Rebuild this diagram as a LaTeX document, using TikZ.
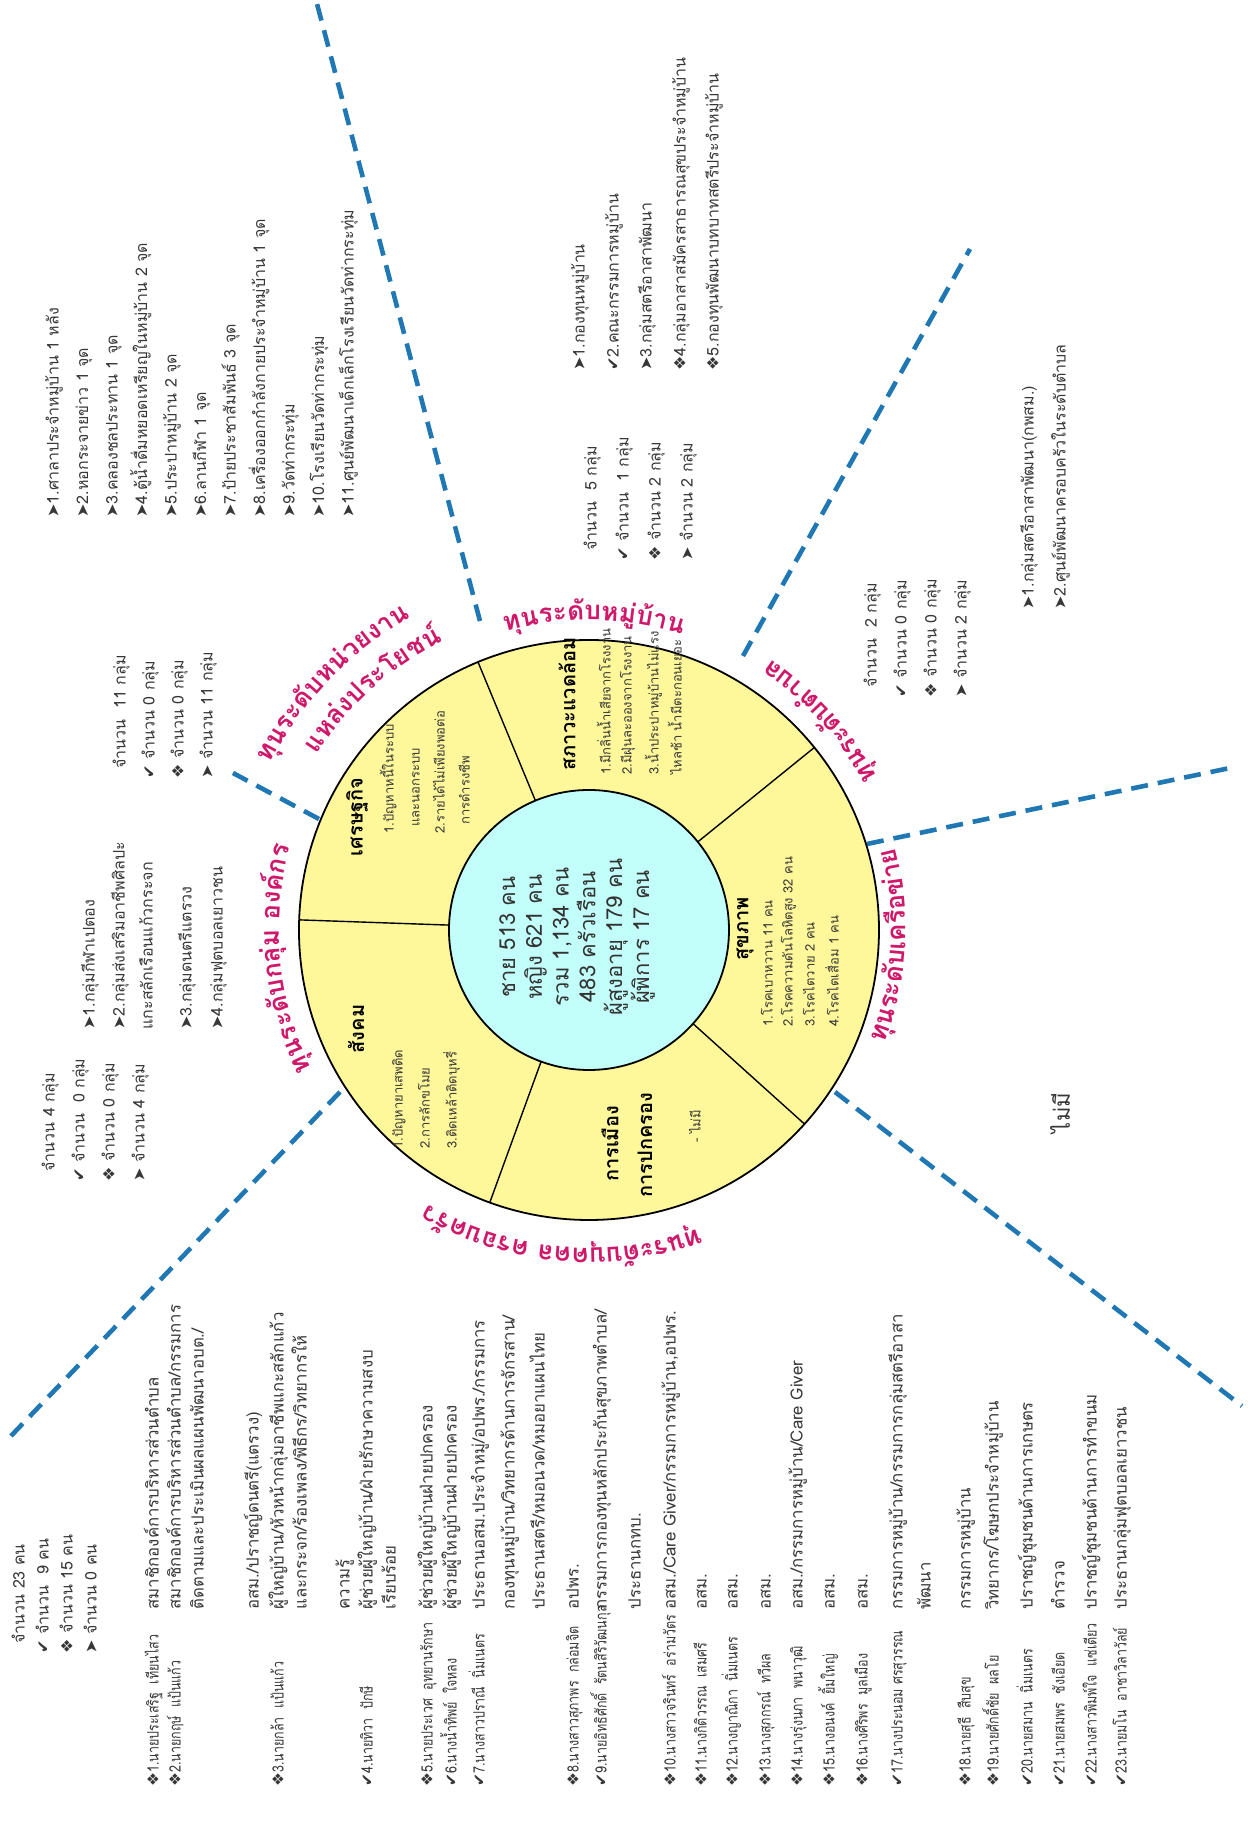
\documentclass[tikz,border=0pt]{standalone}
\usepackage{fontspec}
\setmainfont[Script=Thai]{Loma}
\newfontfamily\namefam[Script=Thai, FakeStretch=0.8]{Loma}
\newfontfamily\symfont{DejaVu Sans}
\usetikzlibrary{calc}

\definecolor{capblue}{RGB}{31,119,180}
\definecolor{capmagenta}{RGB}{208,24,107}
\definecolor{sectoryellow}{RGB}{255,248,155}
\definecolor{coreaqua}{RGB}{195,255,250}
\definecolor{ink}{RGB}{55,55,55}

\def\arr{{\symfont ➤}}
\def\chk{{\symfont ✔}}
\def\dia{{\symfont ❖}}
\newcommand\listfont{\fontsize{8}{10}\selectfont}
\newcommand\namefont{\namefam\fontsize{7.8}{10}\selectfont}
\newcommand\rolefont{\fontsize{8.4}{10}\selectfont}
\newcommand\itemfont{\fontsize{6.5}{8}\selectfont}
\newcommand\titlefont{\bfseries\fontsize{10}{12}\selectfont}
\newcommand\lblfont{\bfseries\fontsize{13}{15}\selectfont}

\tikzset{
  listline/.style={anchor=base west, inner sep=0pt, font=\listfont, text=ink, yshift=-2.3pt},
  nameline/.style={listline, font=\namefont},
  roleline/.style={listline, font=\rolefont},
  smallline/.style={anchor=base west, inner sep=0pt, font=\itemfont, text=ink, yshift=-1.8pt},
  sectitle/.style={inner sep=0pt, font=\titlefont},
  lbl/.style={anchor=base, inner sep=0pt, font=\lblfont, text=capmagenta},
  core/.style={align=center, inner sep=0pt, font=\fontsize{11}{13.4}\selectfont, text=black!80},
  capline/.style={capblue, line width=2.3pt, dash pattern=on 8.5pt off 5pt},
  rim/.style={draw=black, line width=0.9pt},
  spoke/.style={black, line width=0.7pt}
}

% label set along an arc: (centre angle:baseline radius:+1 ccw / -1 cw){whole text}{clusters}
\newlength\lblwd
\newlength\lblcwd
\newlength\lbltmp
\def\lblspace{~}
\def\lblmeasure#1#2{\pgfinterruptpicture\settowidth\lbltmp{\lblfont #2}\global#1=\lbltmp\endpgfinterruptpicture}
\def\arclabel(#1:#2:#3)#4#5{%
  \lblmeasure\lblwd{#4}%
  \xdef\lblacc{0}%
  \foreach \lblc in {#5}{%
    \lblmeasure\lblcwd{\lblc}%
    \pgfmathsetmacro\lbla{#1+#3*(\lblacc+0.5*\lblcwd-0.5*\lblwd)/(#2*0.5)*57.29578}%
    \ifx\lblc\lblspace\else
      \node[lbl, rotate=\lbla+#3*90] at (\lbla:#2) {\lblc};
    \fi
    \pgfmathsetmacro\lblnext{\lblacc+\lblcwd}%
    \xdef\lblacc{\lblnext}%
  }}

% four count lines: (x,y,step){name}{total}{check}{diamond}{arrow}
\def\countblock(#1,#2,#3)#4#5#6#7#8{%
  \node[listline] (#4a) at (#1+10,#2) {#5};
  \node[listline] (#4b) at (#1,#2-#3) {\chk~#6};
  \node[listline] (#4c) at (#1,#2-2*#3) {\dia~#7};
  \node[listline] (#4d) at (#1,#2-3*#3) {\arr~#8};
}

\begin{document}
\begin{tikzpicture}[x=0.5pt, y=0.5pt, rotate=90, transform shape]
  \fill[white] (0,0) rectangle (1837,1255);
  \useasboundingbox (0,0) rectangle (1837,1255);

  %%%%% dashed separators %%%%%
  \draw[capline] (1216,775) -- (1837,939);
  \draw[capline] (1181,512) -- (1588,285);
  \draw[capline] (993,388) -- (1069,25);
  \draw[capline] (745,420) -- (431,13);
  \draw[capline] (745,915) -- (400,1245);
  \draw[capline] (1018,936) -- (1064,1022);

  %%%%% wheel %%%%%
  \begin{scope}[shift={(907,666)}]
    \fill[sectoryellow] (0,0) circle (290);
    \foreach \a in {88,22.5,-51,-132,160}
      \draw[spoke] (\a:140) -- (\a:290);
    \draw[rim] (0,0) circle (290);
    \filldraw[rim, fill=coreaqua] (0,0) circle (140);
    \node[core] (core) at (-7,12) {ชาย 513 คน\\หญิง 621 คน\\รวม 1,134 คน\\483 ครัวเรือน\\ผู้สูงอายุ 179 คน\\ผู้พิการ 17 คน};

    \arclabel(-1:310:-1){ทุนระดับหมู่บ้าน}{ทุ,น,ร,ะ,ดั,บ,ห,มู่,บ้,า,น}
    \arclabel(46:360:-1){ทุนระดับหน่วยงาน}{ทุ,น,ร,ะ,ดั,บ,ห,น่,ว,ย,ง,า,น}
    \arclabel(42:324:-1){แหล่งประโยชน์}{แ,ห,ล่,ง,ป,ร,ะ,โ,ย,ช,น์}
    \arclabel(95.5:310:-1){ทุนระดับกลุ่ม องค์กร}{ทุ,น,ร,ะ,ดั,บ,ก,ลุ่,ม,~,อ,ง,ค์,ก,ร}
    \arclabel(175:318:-1){ทุนระดับบุคคล ครอบครัว}{ทุ,น,ร,ะ,ดั,บ,บุ,ค,ค,ล,~,ค,ร,อ,บ,ค,รั,ว}
    \arclabel(-93:317:1){ทุนระดับเครือข่าย}{ทุ,น,ร,ะ,ดั,บ,เ,ค,รื,อ,ข่,า,ย}
    \arclabel(-48:326:1){ทุนระดับตำบล}{ทุ,น,ร,ะ,ดั,บ,ตำ,บ,ล}
  \end{scope}

  %%%%% sectors %%%%%
  \node[sectitle] (econ) at (1020,898) {เศรษฐกิจ};
  \node[smallline] (econ1) at (1003,865) {1.ปัญหาหนี้ในระบบ};
  \node[smallline] (econ2) at (1010,839) {และนอกระบบ};
  \node[smallline] (econ3) at (1003,814) {2.รายได้ไม่เพียงพอต่อ};
  \node[smallline] (econ4) at (1012,789) {การดำรงชีพ};

  \node[sectitle, anchor=west] (env) at (1066,688) {สภาวะแวดล้อม};
  \foreach \y/\txt [count=\i] in {648/{1.มีกลิ่นน้ำเสียจากโรงงาน}, 627/{2.มีฝุ่นละอองจากโรงงาน},
      600/{3.น้ำประปาหมู่บ้านไม่แรง}, 577/{ไหลช้า น้ำมีตะกอนเยอะ}}
    \node[smallline] (env\i) at (1062,\y) {\txt};

  \node[sectitle] (health) at (908,510) {สุขภาพ};
  \foreach \y/\txt [count=\i] in {486/{1.โรคเบาหวาน 11 คน}, 466/{2.โรคความดันโลหิตสูง 32 คน},
      444/{3.โรคไตวาย 2 คน}, 420/{4.โรคไตเสื่อม 1 คน}}
    \node[smallline] (health\i) at (810,\y) {\txt};

  \node[sectitle] (pol1) at (693,645) {การเมือง};
  \node[sectitle] (pol2) at (692,610) {การปกครอง};
  \node[smallline] (pol3) at (694,558) {- ไม่มี};

  \node[sectitle] (soc) at (808,899) {สังคม};
  \foreach \y/\txt [count=\i] in {856/{1.ปัญหายาเสพติด}, 829/{2.การลักขโมย}, 802/{3.ติดเหล้าติดบุหรี่}}
    \node[smallline] (soc\i) at (688,\y) {\txt};

  %%%%% unit level %%%%%
  \foreach \txt [count=\i] in {ศาลาประจำหมู่บ้าน 1 หลัง, หอกระจายข่าว 1 จุด, คลองชลประทาน 1 จุด,
      ตู้น้ำดื่มหยอดเหรียญในหมู่บ้าน 2 จุด, ประปาหมู่บ้าน 2 จุด, ลานกีฬา 1 จุด,
      ป้ายประชาสัมพันธ์ 3 จุด, เครื่องออกกำลังกายประจำหมู่บ้าน 1 จุด, วัดท่ากระทุ่ม,
      โรงเรียนวัดท่ากระทุ่ม, ศูนย์พัฒนาเด็กเล็กโรงเรียนวัดท่ากระทุ่ม}
    \node[listline] (unit\i) at (1319,1230.5-29.5*\i) {\arr\i.\txt};
  \countblock(1058,1134,29){unitcount}{จำนวน~ 11 กลุ่ม}{จำนวน 0 กลุ่ม}{จำนวน 0 กลุ่ม}{จำนวน 11 กลุ่ม}

  %%%%% village level %%%%%
  \node[listline] (vil1) at (1466,675) {\arr1.กองทุนหมู่บ้าน};
  \node[listline] (vil2) at (1466,641) {\chk2.คณะกรรมการหมู่บ้าน};
  \node[listline] (vil3) at (1466,608) {\arr3.กลุ่มสตรีอาสาพัฒนา};
  \node[listline] (vil4) at (1466,574) {\dia4.กลุ่มอาสาสมัครสาธารณสุขประจำหมู่บ้าน};
  \node[listline] (vil5) at (1466,541) {\dia5.กองทุนพัฒนาบทบาทสตรีประจำหมู่บ้าน};
  \countblock(1276,663,32){vilcount}{จำนวน~ 5 กลุ่ม}{จำนวน~ 1 กลุ่ม}{จำนวน 2 กลุ่ม}{จำนวน 2 กลุ่ม}

  %%%%% sub-district level %%%%%
  \node[listline] (tam1) at (1227,226) {\arr1.กลุ่มสตรีอาสาพัฒนา(กพสม.)};
  \node[listline] (tam2) at (1227,194) {\arr2.ศูนย์พัฒนาครอบครัวในระดับตำบล};
  \countblock(1139,383,30){tamcount}{จำนวน~ 2 กลุ่ม}{จำนวน 0 กลุ่ม}{จำนวน 0 กลุ่ม}{จำนวน 2 กลุ่ม}

  %%%%% network level %%%%%
  \node[font=\fontsize{11}{13}\selectfont, text=ink] (none) at (724,195) {ไม่มี};

  %%%%% group level %%%%%
  \node[listline] (grp1) at (807,1165) {\arr1.กลุ่มกีฬาเปตอง};
  \node[listline] (grp2) at (807,1135) {\arr2.กลุ่มส่งเสริมอาชีพศิลปะ};
  \node[listline] (grp2b) at (807,1107) {แกะสลักเรือนแก้วกระจก};
  \node[listline] (grp3) at (807,1068) {\arr3.กลุ่มดนตรีแตรวง};
  \node[listline] (grp4) at (807,1037) {\arr4.กลุ่มฟุตบอลเยาวชน};
  \countblock(655,1205,30){grpcount}{จำนวน 4 กลุ่ม}{จำนวน~ 0 กลุ่ม}{จำนวน 0 กลุ่ม}{จำนวน 4 กลุ่ม}

  %%%%% persons %%%%%
  \countblock(183,1235,24){percount}{จำนวน 23 คน}{จำนวน~ 9 คน}{จำนวน 15 คน}{จำนวน 0 คน}
  \foreach \y/\txt [count=\i] in {
      1101/{\dia1.นายประเสริฐ~ เทียนไสว}, 1079/{\dia2.นายกฤษ์~ แป้นแก้ว},
      976/{\dia3.นายกล้า~ แป้นแก้ว}, 887/{\chk4.นายทิวา~ ปักษี},
      827/{\dia5.นายประเวศ~ อุทยานรักษา}, 803/{\chk6.นางน้ำทิพย์~ ใจหลง},
      775/{\chk7.นางสาวปราณี~ นิ่มเนตร}, 681/{\dia8.นางสาวสุภาพร~ กล่อมจิต},
      653/{\chk9.นายอิทธิศักดิ์~ รัตนสิริวัฒนกุล}, 584/{\dia10.นางสาวจรินทร์~ อร่ามวัตร},
      553/{\dia11.นางกิติวรรณ~ เสมศรี}, 522/{\dia12.นางญาณิกา~ นิ่มเนตร},
      489/{\dia13.นางสุภกรณ์~ ทวีผล}, 457/{\dia14.นางรุ่งนภา~ พนาวุฒิ},
      425/{\dia15.นางอนงค์~ ยิ้มใหญ่}, 392/{\dia16.นางศิริพร~ มูลเมือง},
      357/{\chk17.นางประนอม ศรสุวรรณ}, 289/{\dia18.นายสุธี~ สืบสุข},
      261/{\dia19.นายศักดิ์ชัย~ ผลโย}, 227/{\chk20.นายสมาน~ นิ่มเนตร},
      195/{\chk21.นายสมพร~ ชังเอียด}, 163/{\chk22.นางสาวพิมพ์ใจ~ แซ่เตียว},
      133/{\chk23.นายมโน~ อาชาวิลาวัลย์}}
    \node[nameline] (person\i) at (50,\y) {\txt};
  \foreach \y/\txt [count=\i] in {
      1101/{สมาชิกองค์การบริหารส่วนตำบล}, 1079/{สมาชิกองค์การบริหารส่วนตำบล/กรรมการ},
      1056/{ติดตามและประเมินผลแผนพัฒนาอบต./}, 1001/{อสม./ปราชญ์ดนตรี(แตรวง)},
      976/{ผู้ใหญ่บ้าน/หัวหน้ากลุ่มอาชีพแกะสลักแก้ว}, 953/{และกระจก/ร้องเพลง/พิธีกร/วิทยากรให้},
      910/{ความรู้}, 887/{ผู้ช่วยผู้ใหญ่บ้าน/ฝ่ายรักษาความสงบ}, 864/{เรียบร้อย},
      827/{ผู้ช่วยผู้ใหญ่บ้านฝ่ายปกครอง}, 803/{ผู้ช่วยผู้ใหญ่บ้านฝ่ายปกครอง},
      775/{ประธานอสม.ประจำหมู่/อปพร./กรรมการ}, 745/{กองทุนหมู่บ้าน/วิทยากรด้านการจักรสาน/},
      715/{ประธานสตรี/หมอนวด/หมอยาแผนไทย}, 681/{อปพร.},
      653/{กรรมการกองทุนหลักประกันสุขภาพตำบล/}, 619/{ประธานกทบ.},
      584/{อสม./Care Giver/กรรมการหมู่บ้าน,อปพร.}, 553/{อสม.}, 522/{อสม.}, 489/{อสม.},
      457/{อสม./กรรมการหมู่บ้าน/Care Giver}, 425/{อสม.}, 392/{อสม.},
      357/{กรรมการหมู่บ้าน/กรรมการกลุ่มสตรีอาสา}, 329/{พัฒนา}, 289/{กรรมการหมู่บ้าน},
      261/{วิทยากร/โฆษกประจำหมู่บ้าน}, 227/{ปราชญ์ชุมชนด้านการเกษตร}, 195/{ตำรวจ},
      163/{ปราชญ์ชุมชนด้านการทำขนม}, 133/{ประธานกลุ่มฟุตบอลเยาวชน}}
    \node[roleline] (role\i) at (227,\y) {\txt};
\end{tikzpicture}
\end{document}
